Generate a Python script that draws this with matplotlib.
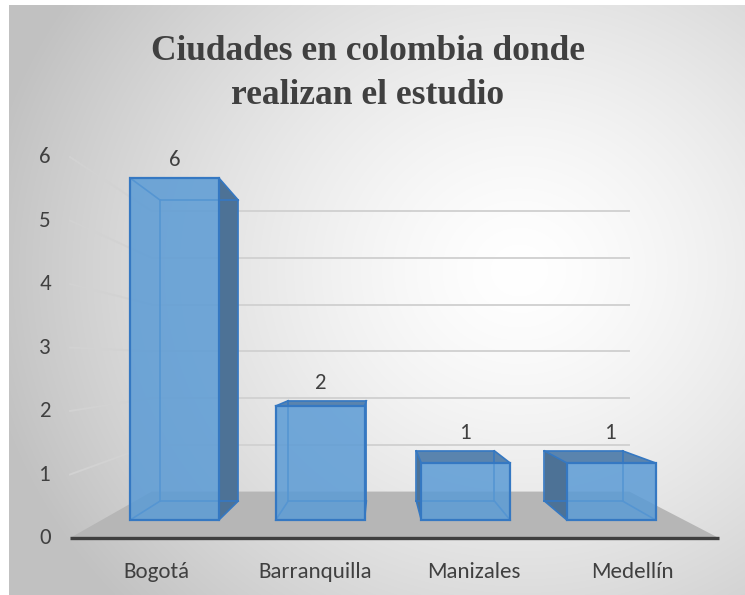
import numpy as np
import matplotlib
matplotlib.use("Agg")
import matplotlib.pyplot as plt
from matplotlib.patches import Polygon

categorias = ["Bogotá", "Barranquilla", "Manizales", "Medellín"]
valores = [6, 2, 1, 1]
ticks_y = [0, 1, 2, 3, 4, 5, 6]
titulo = ["Ciudades en colombia donde", "realizan el estudio"]

# perspectiva: punto de fuga y escalas de profundidad (plano frontal = 1)
VX, VY = 1.41, 2.77
S_FONDO_BARRA = 0.88
S_PARED = 0.82
S_PISO = 1.114
S_ETIQ = 1.09
MEDIO_ANCHO = 0.305
X_MIN, X_MAX = -0.5, 3.5

# pixeles por unidad en el plano frontal
PX_X, PX_Y = 145.6, 57.0
X0_PX, Y0_PX = 174.5, 520.0
W, H = 745, 595

AZUL = "#5b9bd5"
BORDE = "#3578c2"
LADO = "#4d7296"
TAPA = "#5a84ae"
GRIS_TXT = "#404040"
FUENTE = ["Carlito", "Lato", "DejaVu Sans"]
TAM = 16.5


def proy(x, y, s):
    return VX + (x - VX) * s, VY + (y - VY) * s


fig = plt.figure(figsize=(W / 100, H / 100), dpi=100)

# fondo con degradado radial
bg = fig.add_axes([9 / W, 0, (W - 9) / W, (H - 5) / H])
hh, ww = H - 5, W - 9
yy, xx = np.mgrid[0:hh, 0:ww]
r = np.hypot(xx - 510, (yy - 265) * 1.1) / 540
r = np.clip(r, 0, 1)
g = 1.0 - 0.24 * r ** 1.4
bg.imshow(np.dstack([g, g, g]), aspect="auto", interpolation="bilinear")
bg.axis("off")

ax = fig.add_axes([0, 0, 1, 1])
ax.patch.set_alpha(0)
ax.set_xlim(-X0_PX / PX_X, (W - X0_PX) / PX_X)
ax.set_ylim((Y0_PX - H) / PX_Y, Y0_PX / PX_Y)
ax.axis("off")

# lineas de cuadricula: pared de fondo y pared izquierda
for v in ticks_y[1:]:
    a = proy(X_MIN, v, S_PARED)
    b = proy(X_MAX, v, S_PARED)
    ax.plot([a[0], b[0]], [a[1], b[1]], color="#d2d2d2", lw=1.4, zorder=1)
    c = proy(X_MIN, v, S_PISO)
    ax.plot([c[0], a[0]], [c[1], a[1]], color="#d2d2d2", lw=1.4, zorder=1)

# piso
piso = [proy(X_MIN, 0, S_PISO), proy(X_MAX, 0, S_PISO),
        proy(X_MAX, 0, S_PARED), proy(X_MIN, 0, S_PARED)]
ax.add_patch(Polygon(piso, closed=True, facecolor="#b6b6b6", edgecolor="none", zorder=2))
p0, p1 = proy(X_MIN, 0, S_PISO), proy(X_MAX, 0, S_PISO)
ax.plot([p0[0], p1[0]], [p0[1], p1[1]], color="#3f3f3f", lw=2.4, zorder=3,
        solid_capstyle="butt")

# etiquetas del eje y
x_lab = (45 - X0_PX) / PX_X
for v in ticks_y:
    ax.text(x_lab, proy(X_MIN, v, S_PISO)[1], str(v), ha="center", va="center",
            fontsize=TAM, color=GRIS_TXT, family=FUENTE)

# etiquetas de categoria
y_cat = (Y0_PX - 572) / PX_Y
for i, c in enumerate(categorias):
    ax.text(proy(i, 0, S_ETIQ)[0], y_cat, c, ha="center", va="center",
            fontsize=TAM, color=GRIS_TXT, family=FUENTE)

# barras en pseudo 3D
for i, v in enumerate(valores):
    x0, x1 = i - MEDIO_ANCHO, i + MEDIO_ANCHO
    esq = [(x0, 0), (x1, 0), (x1, v), (x0, v)]
    f = [proy(x, y, 1.0) for x, y in esq]
    b = [proy(x, y, S_FONDO_BARRA) for x, y in esq]
    if x1 < VX:
        ax.add_patch(Polygon([f[1], f[2], b[2], b[1]], facecolor=LADO, edgecolor="none", zorder=4))
    if x0 > VX:
        ax.add_patch(Polygon([f[0], f[3], b[3], b[0]], facecolor=LADO, edgecolor="none", zorder=4))
    if v < VY:
        ax.add_patch(Polygon([f[3], f[2], b[2], b[3]], facecolor=TAPA, edgecolor="none", zorder=4))
    for k in range(4):
        n = (k + 1) % 4
        ax.plot([b[k][0], b[n][0]], [b[k][1], b[n][1]], color=BORDE, lw=1.2, zorder=4.5)
        ax.plot([f[k][0], b[k][0]], [f[k][1], b[k][1]], color=BORDE, lw=1.2, zorder=4.5)
    ax.add_patch(Polygon(f, facecolor=AZUL, alpha=0.85, edgecolor="none", zorder=5))
    ax.add_patch(Polygon(f, facecolor="none", edgecolor=BORDE, lw=1.6, zorder=6))
    tope = max(v, b[2][1])
    ax.annotate(str(v), xy=(i, tope), xytext=(0, 13), textcoords="offset points",
                ha="center", va="center", fontsize=TAM, color=GRIS_TXT, family=FUENTE)

# titulo en dos renglones
for linea, base in zip(titulo, [60, 104]):
    fig.text(368 / W, 1 - base / H, linea, ha="center", va="baseline", fontsize=25.5,
             fontweight="bold", family="Liberation Serif", color=GRIS_TXT)

fig.savefig("out.png", dpi=100)
